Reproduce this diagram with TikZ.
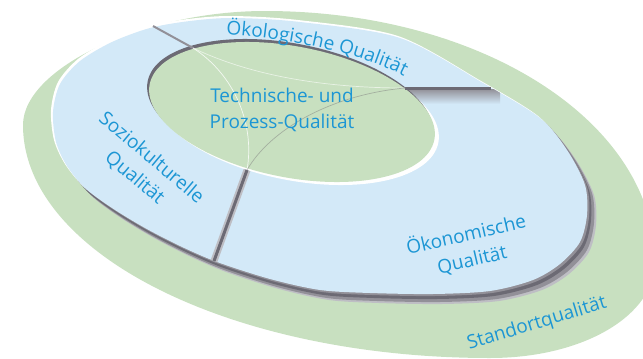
\documentclass[tikz,border=0pt]{standalone}
\usepackage{fontspec}
\setmainfont{Open Sans}
\usetikzlibrary{decorations.text}
\definecolor{greenFill}{RGB}{200,224,192}
\definecolor{blueFill}{RGB}{211,233,248}
\definecolor{txtblue}{RGB}{28,150,212}
\definecolor{shadowDark}{RGB}{108,106,116}
\definecolor{shadowMid}{RGB}{146,144,152}
\definecolor{shadowLight}{RGB}{190,190,196}
\begin{document}
\begin{tikzpicture}[x=1pt,y=-1pt,
  labeltext/.style={text=txtblue, font=\fontsize{19}{26}\selectfont, align=center, inner sep=0pt},
  faint/.style={line width=0.7pt}]
\def\outershape{(23,125) .. controls (23,68) and (144,11) .. (265,11) .. controls (483,11) and (655,123) .. (655,262) .. controls (655,315) and (584,358) .. (490,358) .. controls (232,358) and (23,254) .. (23,125) -- cycle}
\def\blueshape{plot[smooth cycle] coordinates {(53,112) (60,84) (80,61) (112,42) (150,28) (190,21) (233,18) (300,22) (400,38) (483,83) (540,118) (567,150) (585,185) (587,215) (580,242) (560,264) (533,280) (490,291) (433,294) (370,293) (320,290) (270,279) (217,262) (180,246) (145,228) (112,208) (85,188) (67,166) (56,142)}}
\useasboundingbox (0,0) rectangle (643,359);
\clip (0,0) rectangle (643,359);
% outer site quality
\fill[greenFill] \outershape;
% shadow of the ring
\fill[shadowLight, shift={(9,10)}] \blueshape;
\fill[shadowMid, shift={(7,8)}] \blueshape;
\fill[shadowDark, shift={(4,5)}] \blueshape;
\fill[shadowMid, shift={(2,2)}] \blueshape;
% white rim
\fill[white, shift={(-2,-2)}] \blueshape;
% ring
\fill[blueFill] \blueshape;
% divider shadows
\begin{scope}
  \clip \blueshape;
  \shade[top color=shadowMid, bottom color=blueFill] (400,89) rectangle (500,104);
\end{scope}
% inner ellipse with rim
\fill[white, shift={(4,3)}, shift={(292,112)}, rotate=-11] (0,0) ellipse [x radius=145, y radius=65.5];
\fill[shadowDark, shift={(-2,-3)}, shift={(292,112)}, rotate=-11] (0,0) ellipse [x radius=145, y radius=65.5];
\fill[greenFill, shift={(292,112)}, rotate=-11] (0,0) ellipse [x radius=145, y radius=65.5];
% dividers
\coordinate (d1a) at (193,48); \coordinate (d1b) at (153,26);
\coordinate (d2a) at (405,88); \coordinate (d2b) at (491,88);
\coordinate (d3a) at (247,170); \coordinate (d3b) at (214,261);
\draw[line width=2pt, shadowMid] (d1a) -- (d1b);
\draw[line width=3pt, shadowDark] (d2a) -- (d2b);
\draw[line width=7pt, shadowLight] (d3a) -- (d3b);
\draw[line width=3pt, shadowDark] (d3a) -- (d3b);
% faint lines inside
\draw[faint, white, opacity=0.8] (d1a) .. controls (235,75) and (255,125) .. (d3a);
\draw[faint, white, opacity=0.6] (d1a) .. controls (260,80) and (340,88) .. (d2a);
\draw[faint, gray, opacity=0.5] (d3a) .. controls (270,130) and (330,95) .. (d2a);
% texts
\path[decorate, decoration={text along path, text={|\fontsize{19}{23}\selectfont|Ökologische Qualität}, text color=txtblue, text align=center}] (210,34) .. controls (295,37) and (375,57) .. (418,84);
\node[labeltext] (tech) at (282,110) {Technische- und\\Prozess-Qualität};
\node[labeltext, rotate=-40] (sozio) at (143,168) {Soziokulturelle\\Qualität};
\node[labeltext, rotate=13] (oeko) at (469,247) {Ökonomische\\Qualität};
\node[labeltext, rotate=17] (standort) at (537,324) {Standortqualität};
\end{tikzpicture}
\end{document}
